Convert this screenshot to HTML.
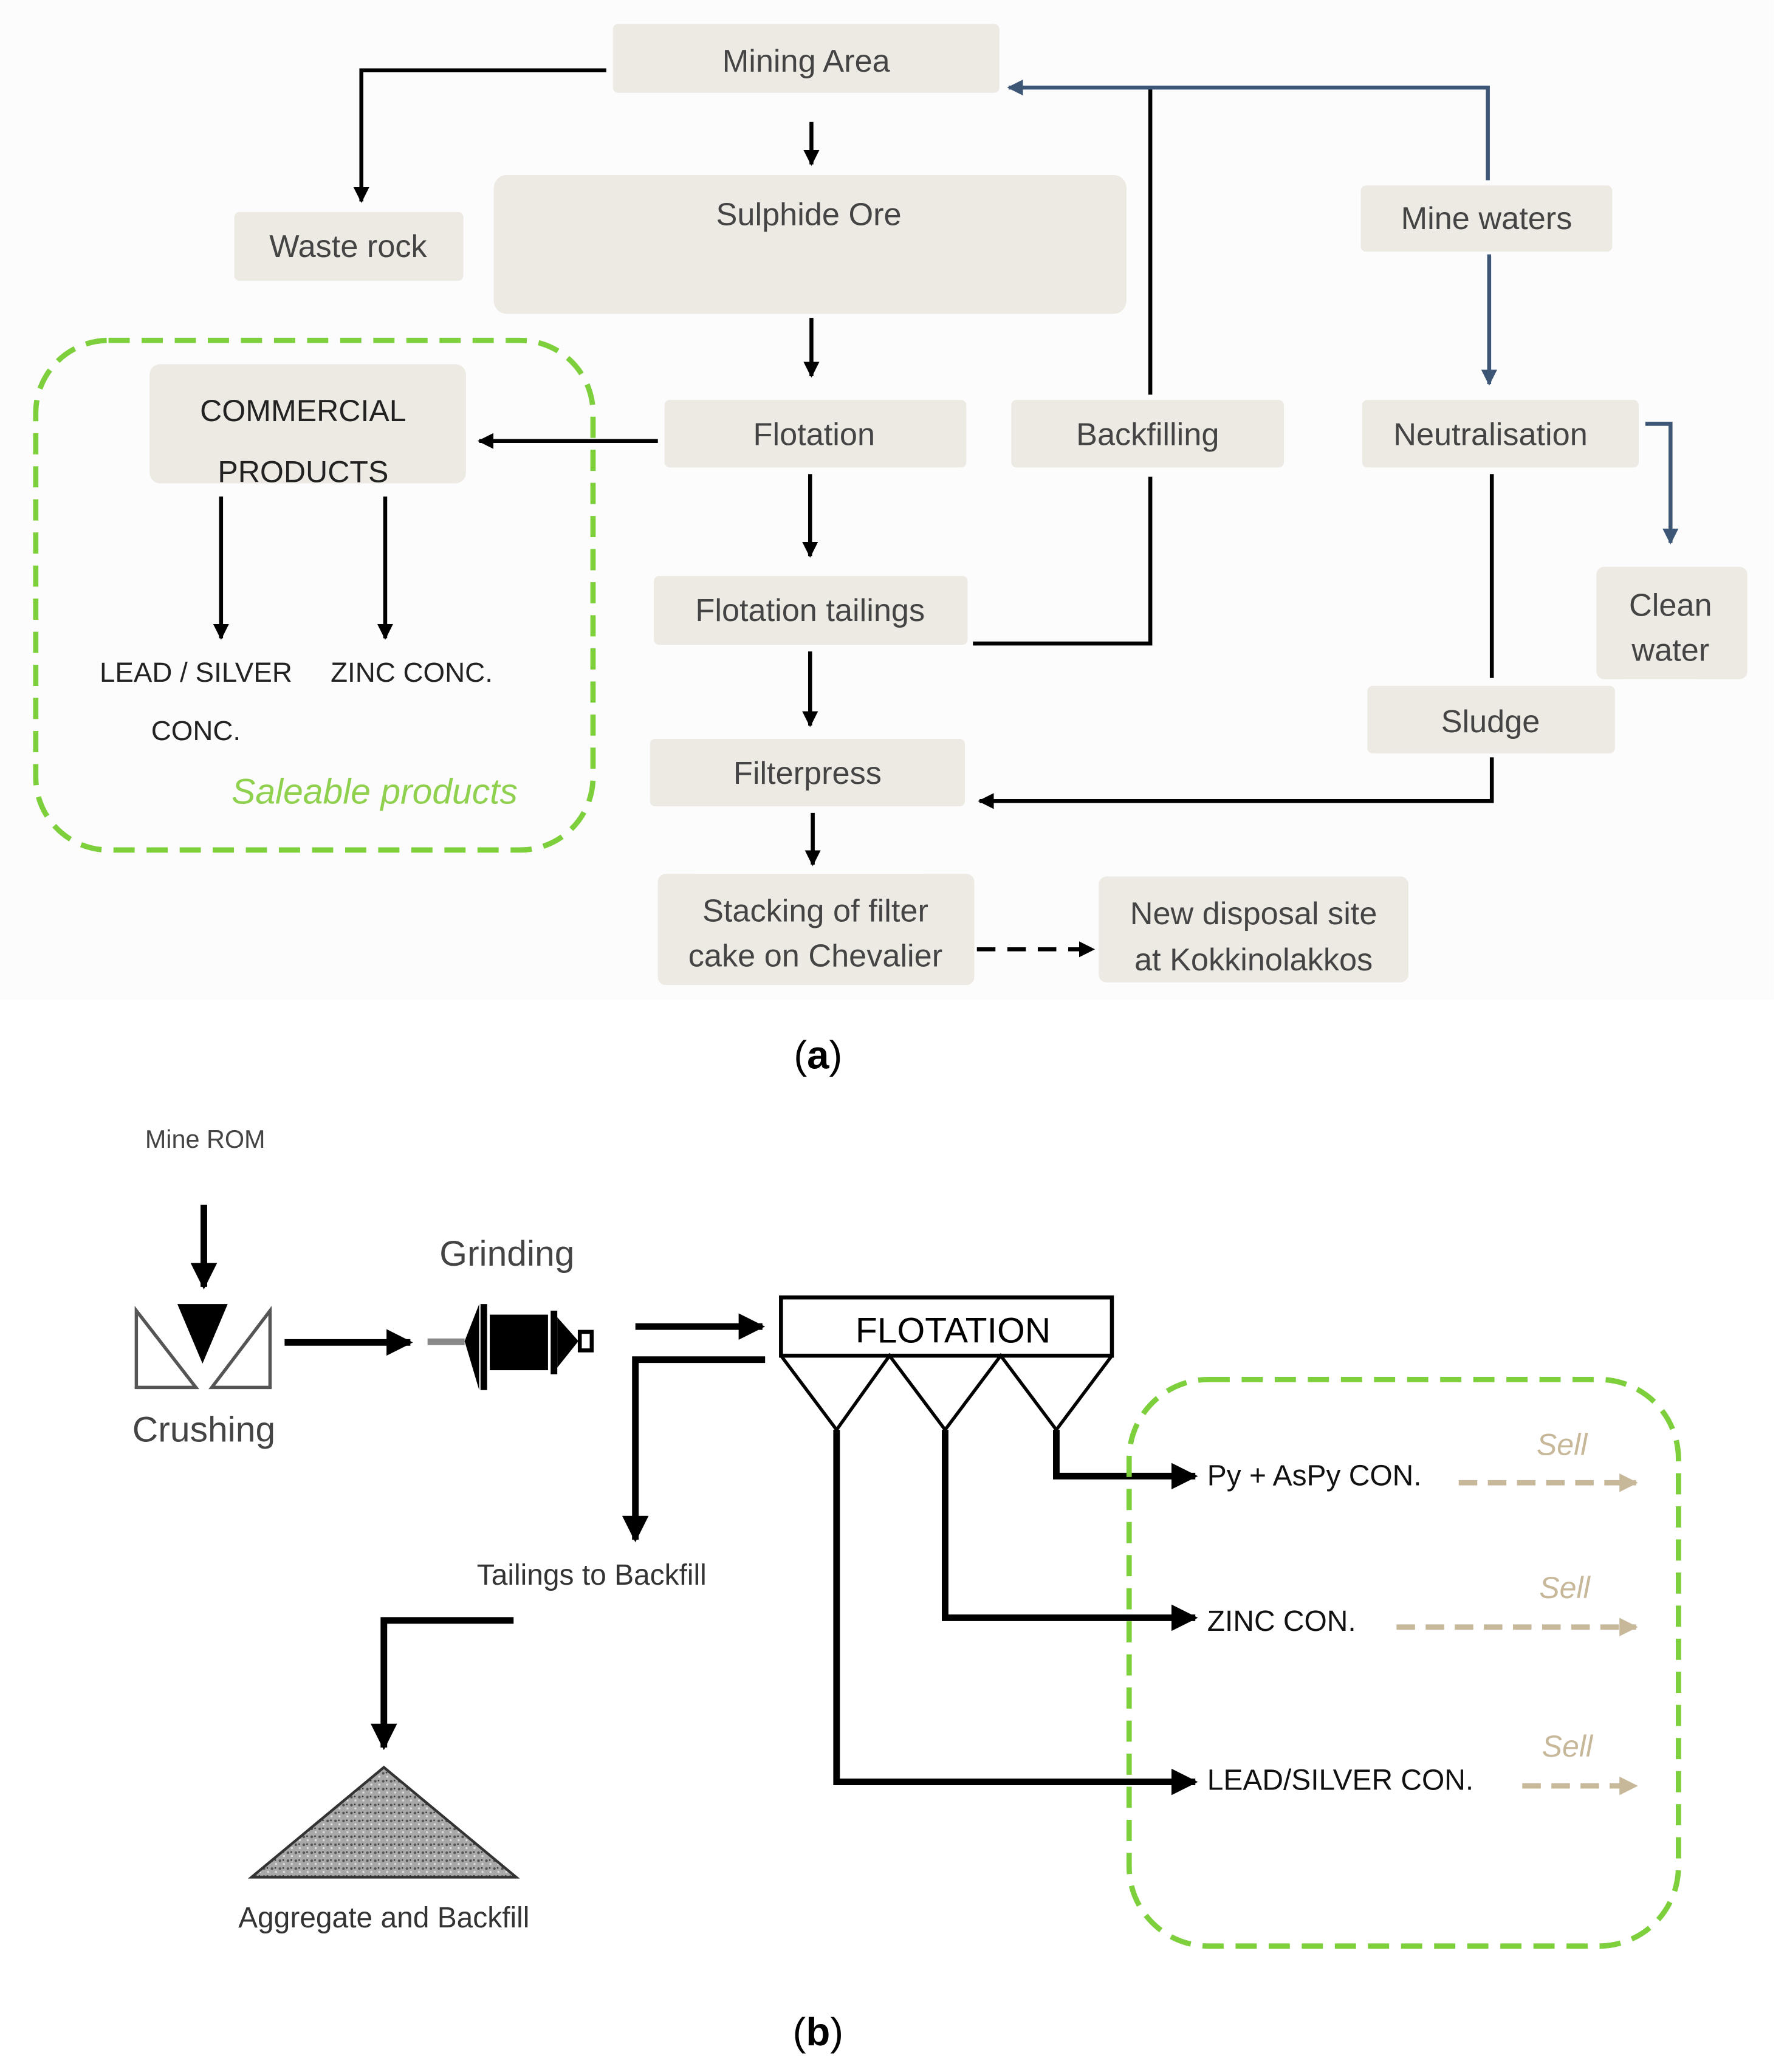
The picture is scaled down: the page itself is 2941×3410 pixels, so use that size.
<!DOCTYPE html>
<html><head><meta charset="utf-8"><style>
html,body{margin:0;padding:0;background:#fff}
svg{display:block}
text{font-family:"Liberation Sans",sans-serif}
</style></head><body>
<svg width="2941" height="3410" viewBox="0 0 1350 1565" xmlns="http://www.w3.org/2000/svg">
<defs>
<marker id="ah" viewBox="0 0 10 10" refX="9" refY="5" markerWidth="4" markerHeight="4" orient="auto-start-reverse"><path d="M0,0L10,5L0,10z" fill="#000"/></marker>
<marker id="ahb" viewBox="0 0 10 10" refX="9" refY="5" markerWidth="4" markerHeight="4" orient="auto"><path d="M0,0L10,5L0,10z" fill="#3d5675"/></marker>
<marker id="aht" viewBox="0 0 10 10" refX="9" refY="5" markerWidth="3.5" markerHeight="3.5" orient="auto"><path d="M0,0L10,5L0,10z" fill="#c8b89a"/></marker>
<pattern id="grav" width="6" height="6" patternUnits="userSpaceOnUse"><rect width="6" height="6" fill="#a8a8a8"/><circle cx="1.5" cy="1.5" r="1" fill="#555"/><circle cx="4.5" cy="4" r="0.8" fill="#e0e0e0"/><circle cx="4" cy="1" r="0.6" fill="#333"/></pattern>
</defs>
<rect x="0" y="0" width="1340" height="755" fill="#fcfcfc"/>
<g fill="#ede9e3">
<rect x="463" y="18" width="292" height="52" rx="4"/>
<rect x="177" y="160" width="173" height="52" rx="4"/>
<rect x="373" y="132" width="478" height="105" rx="10"/>
<rect x="113" y="275" width="239" height="90" rx="8"/>
<rect x="502" y="302" width="228" height="51" rx="4"/>
<rect x="764" y="302" width="206" height="51" rx="4"/>
<rect x="1028" y="140" width="190" height="50" rx="4"/>
<rect x="1029" y="302" width="209" height="51" rx="4"/>
<rect x="1206" y="428" width="114" height="85" rx="6"/>
<rect x="494" y="435" width="237" height="52" rx="4"/>
<rect x="1033" y="518" width="187" height="51" rx="4"/>
<rect x="491" y="558" width="238" height="51" rx="4"/>
<rect x="497" y="660" width="239" height="84" rx="6"/>
<rect x="830" y="662" width="234" height="80" rx="6"/>
</g>
<g fill="#444" font-size="24" text-anchor="middle">
<text x="609" y="54">Mining Area</text>
<text x="263" y="194">Waste rock</text>
<text x="611" y="170">Sulphide Ore</text>
<text x="229" y="318" font-size="23" fill="#222">COMMERCIAL</text>
<text x="229" y="364" font-size="23" fill="#222">PRODUCTS</text>
<text x="615" y="336">Flotation</text>
<text x="867" y="336">Backfilling</text>
<text x="1123" y="173">Mine waters</text>
<text x="1126" y="336">Neutralisation</text>
<text x="1262" y="465">Clean</text>
<text x="1262" y="499">water</text>
<text x="612" y="469">Flotation tailings</text>
<text x="1126" y="553">Sludge</text>
<text x="610" y="592">Filterpress</text>
<text x="616" y="696">Stacking of filter</text>
<text x="616" y="730">cake on Chevalier</text>
<text x="947" y="698">New disposal site</text>
<text x="947" y="733">at Kokkinolakkos</text>
</g>
<g stroke="#000" stroke-width="3" fill="none">
<path d="M458,53H273V152" marker-end="url(#ah)"/>
<path d="M613,92V124" marker-end="url(#ah)"/>
<path d="M613,240V284" marker-end="url(#ah)"/>
<path d="M497,333H362" marker-end="url(#ah)"/>
<path d="M869,298V66"/>
<path d="M612,358V420" marker-end="url(#ah)"/>
<path d="M735,486H869V360"/>
<path d="M612,492V548" marker-end="url(#ah)"/>
<path d="M1127,358V512"/>
<path d="M1127,572V605H740" marker-end="url(#ah)"/>
<path d="M614,614V653" marker-end="url(#ah)"/>
<path d="M738,717H826" stroke-dasharray="14,9" marker-end="url(#ah)"/>
<path d="M167,375V482" marker-end="url(#ah)"/>
<path d="M291,375V482" marker-end="url(#ah)"/>
</g>
<g stroke="#3d5675" stroke-width="3" fill="none">
<path d="M1124,136V66H762" marker-end="url(#ahb)"/>
<path d="M1125,192V290" marker-end="url(#ahb)"/>
<path d="M1243,320H1262V410" marker-end="url(#ahb)"/>
</g>
<rect x="27" y="257" width="421" height="385" rx="55" fill="none" stroke="#7dcf3c" stroke-width="4" stroke-dasharray="16,9"/>
<g font-size="21" fill="#222" text-anchor="middle">
<text x="148" y="515">LEAD / SILVER</text>
<text x="148" y="559">CONC.</text>
<text x="311" y="515">ZINC CONC.</text>
</g>
<text x="283" y="607" font-size="27" font-style="italic" fill="#8fd14f" text-anchor="middle">Saleable products</text>
<text x="618" y="807" font-size="30" text-anchor="middle" font-family="Liberation Serif,serif">(<tspan font-weight="bold">a</tspan>)</text>

<text x="155" y="867" font-size="19" fill="#444" text-anchor="middle">Mine ROM</text>
<g stroke="#000" stroke-width="5" fill="none">
<path d="M154,910V972" marker-end="url(#ah)"/>
<path d="M215,1014H310" marker-end="url(#ah)"/>
<path d="M480,1002H576" marker-end="url(#ah)"/>
<path d="M578,1027H480V1163" marker-end="url(#ah)"/>
<path d="M798,1080V1115H903" marker-end="url(#ah)"/>
<path d="M714,1080V1222H903" marker-end="url(#ah)"/>
<path d="M632,1080V1346H903" marker-end="url(#ah)"/>
<path d="M388,1224H290V1320" marker-end="url(#ah)"/>
</g>
<path d="M103,990V1048H148Z M204,990V1048H160Z" fill="none" stroke="#555" stroke-width="2.5"/>
<path d="M134,985H172L153,1030Z" fill="#000"/>
<text x="154" y="1089" font-size="27" fill="#444" text-anchor="middle">Crushing</text>
<text x="383" y="956" font-size="27" fill="#444" text-anchor="middle">Grinding</text>
<rect x="323" y="1011" width="28" height="5" fill="#888"/>
<path d="M351,1013L362,985V1050Z" fill="#000"/>
<rect x="363" y="985" width="5" height="65" fill="#000"/>
<rect x="370" y="993" width="44" height="42" fill="#000"/>
<rect x="416" y="990" width="5" height="48" fill="#000"/>
<path d="M421,995L437,1013L421,1033Z" fill="#000"/>
<rect x="438" y="1006" width="9" height="14" fill="#fff" stroke="#000" stroke-width="3"/>
<rect x="590" y="980" width="250" height="44" fill="#fff" stroke="#000" stroke-width="3"/>
<text x="720" y="1014" font-size="27" fill="#000" text-anchor="middle">FLOTATION</text>
<path d="M590,1024L632,1080L672,1024L714,1080L756,1024L798,1080L840,1024" fill="none" stroke="#000" stroke-width="2.5"/>
<g font-size="22" fill="#111">
<text x="912" y="1122">Py + AsPy CON.</text>
<text x="912" y="1232">ZINC CON.</text>
<text x="912" y="1352">LEAD/SILVER CON.</text>
</g>
<g font-size="23" font-style="italic" fill="#c8b89a" text-anchor="middle">
<text x="1180" y="1099">Sell</text>
<text x="1182" y="1207">Sell</text>
<text x="1184" y="1327">Sell</text>
</g>
<g stroke="#c8b89a" stroke-width="4" stroke-dasharray="14,8" fill="none">
<path d="M1102,1120H1236" marker-end="url(#aht)"/>
<path d="M1055,1229H1236" marker-end="url(#aht)"/>
<path d="M1150,1349H1236" marker-end="url(#aht)"/>
</g>
<rect x="853" y="1042" width="415" height="428" rx="60" fill="none" stroke="#7dcf3c" stroke-width="4" stroke-dasharray="16,9"/>
<text x="447" y="1197" font-size="22" fill="#333" text-anchor="middle">Tailings to Backfill</text>
<path d="M190,1418L290,1335L390,1418Z" fill="url(#grav)" stroke="#333" stroke-width="2"/>
<text x="290" y="1456" font-size="22" fill="#333" text-anchor="middle">Aggregate and Backfill</text>
<text x="618" y="1545" font-size="30" text-anchor="middle" font-family="Liberation Serif,serif">(<tspan font-weight="bold">b</tspan>)</text>
</svg>
</body></html>
